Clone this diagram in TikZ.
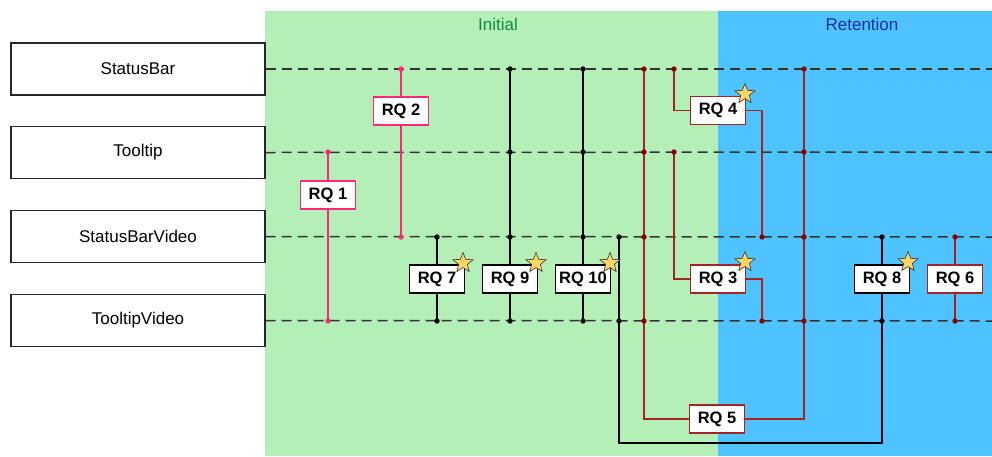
\documentclass[tikz,border=0pt]{standalone}
\usepackage{fontspec}
\setmainfont{Liberation Sans}
\usetikzlibrary{shapes.geometric}
\definecolor{greenbg}{RGB}{180,239,183}
\definecolor{bluebg}{RGB}{79,195,255}
\definecolor{inittxt}{RGB}{16,140,64}
\definecolor{rettxt}{RGB}{22,48,160}
\definecolor{pinkc}{RGB}{255,40,120}
\definecolor{redl}{RGB}{165,35,35}
\definecolor{redd}{RGB}{140,0,0}
\definecolor{starfill}{RGB}{255,214,102}
\begin{document}
\begin{tikzpicture}[x=1pt,y=-1pt,
  comp/.style={draw=black!85,line width=1.1pt,fill=white,minimum width=254pt,minimum height=52pt,inner sep=0pt,font=\fontsize{17}{20}\selectfont},
  rq/.style={draw,line width=1.4pt,fill=white,minimum width=55pt,minimum height=28pt,inner sep=0pt,font=\bfseries\fontsize{16.5}{19}\selectfont},
  rqpink/.style={rq,draw=pinkc},
  rqred/.style={rq,draw=redl},
  rqblack/.style={rq,draw=black},
  dashline/.style={draw=black!80,line width=1.5pt,dash pattern=on 10pt off 6pt},
  pinkline/.style={draw=pinkc,line width=1.3pt},
  redline/.style={draw=redl,line width=1.3pt},
  blackline/.style={draw=black,line width=1.3pt},
  dotp/.style={fill=pinkc},
  dotr/.style={fill=redd},
  dotb/.style={fill=black},
  starmark/.style={star,star points=5,star point ratio=2.3,minimum size=21pt,inner sep=0pt,draw=black!80,line width=0.6pt,fill=starfill}
]
\useasboundingbox (0,0) rectangle (992,456);
\fill[greenbg] (265,11) rectangle (718,456);
\fill[bluebg] (718,11) rectangle (992,456);
\node[text=inittxt,font=\fontsize{17}{20}\selectfont] (initial) at (498,24) {Initial};
\node[text=rettxt,font=\fontsize{17}{20}\selectfont] (retention) at (862,24) {Retention};

% component boxes
\node[comp] (sb) at (138,69) {StatusBar};
\node[comp] (tt) at (138,152.5) {Tooltip};
\node[comp] (sbv) at (138,236.5) {StatusBarVideo};
\node[comp] (ttv) at (138,320.5) {TooltipVideo};
\coordinate (sbend) at (992,69);
\coordinate (ttend) at (992,152);
\coordinate (sbvend) at (992,237);
\coordinate (ttvend) at (992,321);
\draw[dashline] (sb.east) -- (sbend);
\draw[dashline] (tt.east) -- (ttend);
\draw[dashline] (sbv.east) -- (sbvend);
\draw[dashline] (ttv.east) -- (ttvend);

% dot coordinates
\coordinate (p1a) at (328,152); \coordinate (p1b) at (328,321);
\coordinate (p2a) at (401,69);  \coordinate (p2b) at (401,237);
\coordinate (b7a) at (437,237); \coordinate (b7b) at (437,321);
\coordinate (b9a) at (510,69);  \coordinate (b9b) at (510,152); \coordinate (b9c) at (510,237); \coordinate (b9d) at (510,321);
\coordinate (b10a) at (583,69); \coordinate (b10b) at (583,152); \coordinate (b10c) at (583,237); \coordinate (b10d) at (583,321);
\coordinate (b8a) at (619,237); \coordinate (b8b) at (619,321); \coordinate (b8c) at (619,443);
\coordinate (b8d) at (882,443); \coordinate (b8e) at (882,321); \coordinate (b8f) at (882,237);
\coordinate (r5a) at (644,69); \coordinate (r5b) at (644,152); \coordinate (r5c) at (644,237); \coordinate (r5d) at (644,321);
\coordinate (r5e) at (804,69); \coordinate (r5f) at (804,152); \coordinate (r5g) at (804,237); \coordinate (r5h) at (804,321);
\coordinate (r4a) at (674,69); \coordinate (r4b) at (762,237);
\coordinate (r3a) at (674,152); \coordinate (r3b) at (762,321);
\coordinate (r6a) at (955,237); \coordinate (r6b) at (955,321);

% RQ boxes
\node[rqpink] (rq1) at (328,195) {RQ 1};
\node[rqpink] (rq2) at (401,111) {RQ 2};
\node[rqblack] (rq7) at (437,279) {RQ 7};
\node[rqblack] (rq9) at (510,279) {RQ 9};
\node[rqblack] (rq10) at (583,279) {RQ 10};
\node[rqred] (rq4) at (718,110.5) {RQ 4};
\node[rqred] (rq3) at (718,279) {RQ 3};
\node[rqred] (rq5) at (717,419) {RQ 5};
\node[rqblack] (rq8) at (882,279) {RQ 8};
\node[rqred] (rq6) at (955,279) {RQ 6};

% connectors
\draw[pinkline] (p1a) -- (rq1.north) (rq1.south) -- (p1b);
\draw[pinkline] (p2a) -- (rq2.north) (rq2.south) -- (p2b);
\draw[blackline] (b7a) -- (rq7.north) (rq7.south) -- (b7b);
\draw[blackline] (b9a) -- (rq9.north) (rq9.south) -- (b9d);
\draw[blackline] (b10a) -- (rq10.north) (rq10.south) -- (b10d);
\draw[blackline] (b8a) -- (b8c) -- (b8d) -- (rq8.south) (rq8.north) -- (b8f);
\draw[redline] (r5a) |- (rq5.west);
\draw[redline] (rq5.east) -| (r5e);
\draw[redline] (r4a) |- (rq4.west);
\draw[redline] (rq4.east) -| (r4b);
\draw[redline] (r3a) |- (rq3.west);
\draw[redline] (rq3.east) -| (r3b);
\draw[redline] (r6a) -- (rq6.north) (rq6.south) -- (r6b);

% dots
\foreach \c in {p1a,p1b,p2a,p2b} \fill[dotp] (\c) circle (2.7pt);
\foreach \c in {b7a,b7b,b9a,b9b,b9c,b9d,b10a,b10b,b10c,b10d,b8a,b8b,b8e,b8f} \fill[dotb] (\c) circle (2.7pt);
\foreach \c in {r5a,r5b,r5c,r5d,r5e,r5f,r5g,r5h,r4a,r4b,r3a,r3b,r6a,r6b} \fill[dotr] (\c) circle (2.7pt);

% stars
\node[starmark] (s7) at (463,263) {};
\node[starmark] (s9) at (536,263) {};
\node[starmark] (s10) at (610,263) {};
\node[starmark] (s4) at (745,94) {};
\node[starmark] (s3) at (745,262) {};
\node[starmark] (s8) at (908,262) {};
\end{tikzpicture}
\end{document}
